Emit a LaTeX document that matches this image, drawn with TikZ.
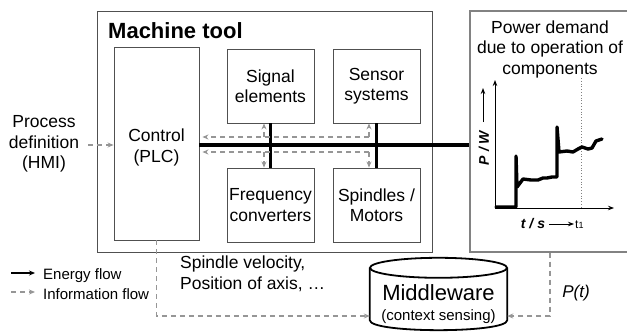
\documentclass[tikz,border=0pt]{standalone}
\usepackage{fontspec}
\setmainfont{Liberation Sans}
\usetikzlibrary{arrows.meta,calc}
\definecolor{infocol}{RGB}{150,150,150}
\definecolor{boxcol}{RGB}{80,80,80}
\definecolor{pwcol}{RGB}{130,130,130}
\tikzset{
  comp/.style={draw=boxcol, line width=0.9pt, minimum width=87pt, minimum height=74pt, inner sep=0pt, align=center, font=\fontsize{17.5}{20.5}\selectfont},
  energy/.style={line width=3.6pt},
  info/.style={draw=infocol, line width=1.2pt, dash pattern=on 5pt off 4pt, -{Stealth[length=6pt,width=5pt]}, infocol},
  txt/.style={align=center, font=\fontsize{17.5}{20.5}\selectfont, inner sep=0pt},
  curve/.style={line width=3.4pt, line join=round, line cap=round},
}
\begin{document}
\begin{tikzpicture}[x=1pt,y=-1pt]
\useasboundingbox (0,0) rectangle (627,332);
% frames
\node[draw=boxcol, line width=0.9pt, minimum width=335pt, minimum height=241pt, inner sep=0pt] (mt) at (264.5,131.5) {};
\node[anchor=base west, inner sep=0pt, font=\fontsize{22}{24}\selectfont\bfseries] (mtl) at (108,38) {Machine tool};
\node[draw=pwcol, line width=1.2pt, minimum width=170pt, minimum height=241pt, inner sep=0pt] (pw) at (555,131.5) {};
% components
\node[comp, minimum height=193pt, minimum width=85pt] (ctrl) at (156.5,143.5) {};
\node[txt] (ctrlt) at (156.5,147.5) {Control\\(PLC)};
\node[comp] (sig) at (270.5,86) {Signal\\elements};
\node[comp] (sen) at (376.5,86) {Sensor\\systems};
\node[comp] (frq) at (270.5,205) {Frequency\\converters};
\node[comp] (spm) at (376.5,205) {Spindles /\\Motors};
% process definition
\node[txt] (proc) at (44,144) {Process\\definition\\(HMI)};
\coordinate (pa) at (88,145);
\draw[info] (pa) -- (pa -| ctrl.west);
% energy bus
\coordinate (eb) at (199,145);
\draw[energy] (eb) -- (eb -| pw.west);
\draw[energy] (sig.south) -- (frq.north);
\draw[energy] (sen.south) -- (spm.north);
% information arrows
\coordinate (iu) at (369,137);
\coordinate (il) at (369,152);
\coordinate (ju) at (264,137);
\coordinate (jl) at (264,152);
\draw[info, shorten >=3pt] (iu) -- (iu -| ctrl.east);
\draw[info, shorten >=3pt] (il) -- (il -| ctrl.east);
\draw[info] (iu) -- (iu |- sen.south);
\draw[info] (il) -- (il |- spm.north);
\draw[info] (ju) -- (ju |- sig.south);
\draw[info] (jl) -- (jl |- frq.north);
% power demand
\node[txt] (pdt) at (550,49) {Power demand\\due to operation of\\components};
\coordinate (o) at (495,208);
\coordinate (ytop) at (495,80);
\coordinate (xend) at (614,208);
\draw[line width=0.9pt, -{Stealth[length=6pt,width=4.5pt]}] (o) -- (ytop);
\draw[line width=0.9pt, -{Stealth[length=6pt,width=4.5pt]}] (o) -- (xend);
\coordinate (t1a) at (581,78);
\draw[gray, dotted, line width=0.8pt] (t1a) -- (t1a |- o);
\draw[curve] (496,207) -- (516,207) -- (516,156) -- (517,187) -- (523,179) -- (531,180) -- (538,180) -- (543,178) -- (547,178) -- (552,177) -- (557,177) -- (557,127) -- (559,152) -- (567,151) -- (573,152) -- (578,149) -- (582,147) -- (588,149) -- (592,148) -- (596,141) -- (602,139);
\node[rotate=90, inner sep=0pt, font=\fontsize{14}{14}\selectfont\bfseries\itshape] (pwl) at (484,148) {P / W};
\coordinate (pwa) at (483,122);
\draw[line width=0.9pt, -{Stealth[length=6pt,width=4.5pt]}] (pwa) -- ++(0,-34);
\node[anchor=base, inner sep=0pt, font=\fontsize{14}{14}\selectfont\bfseries\itshape] (tsl) at (533,228) {t / s};
\coordinate (tsa) at (549,224);
\draw[line width=0.9pt, -{Stealth[length=6pt,width=4.5pt]}] (tsa) -- ++(25,0);
\node[anchor=base west, inner sep=0pt, font=\fontsize{12}{12}\selectfont] (t1l) at (575,228) {t{\fontsize{9}{9}\selectfont 1}};
% middleware
\node[minimum width=137pt, minimum height=72pt, inner sep=0pt] (mw) at (438.5,294) {};
\draw[line width=1.8pt] ([yshift=-10pt]mw.north) ellipse [x radius=68.5pt, y radius=10pt];
\draw[line width=1.8pt] ([yshift=-10pt]mw.north west) -- ([yshift=10pt]mw.south west) .. controls +(0,13.3) and +(0,13.3) .. ([yshift=10pt]mw.south east) -- ([yshift=-10pt]mw.north east);
\node[anchor=base, inner sep=0pt, font=\fontsize{22}{22}\selectfont] (mwt) at (438.5,300) {Middleware};
\node[anchor=base, inner sep=0pt, font=\fontsize{15}{15}\selectfont] (mwc) at (438.5,320) {(context sensing)};
% lower connectors
\draw[info] (ctrl.south) |- ([yshift=-22pt]mw.west);
\draw[info] ([xshift=-5pt]pw.south) |- ([yshift=-22pt]mw.east);
\node[anchor=base west, txt, align=left] (spv) at (180,289) {Spindle velocity,\\Position of axis, \dots};
\node[inner sep=0pt, font=\fontsize{17}{17}\selectfont\itshape] (pt) at (576,293) {P(t)};
% legend
\coordinate (le1) at (11,273);
\coordinate (le2) at (11,292);
\draw[line width=1.6pt, -{Stealth[length=6pt,width=5pt]}] (le1) -- ++(24,0);
\draw[info] (le2) -- ++(24,0);
\node[anchor=base west, inner sep=0pt, font=\fontsize{15}{15}\selectfont] (l1) at (43,279) {Energy flow};
\node[anchor=base west, inner sep=0pt, font=\fontsize{15}{15}\selectfont] (l2) at (43,299) {Information flow};
\end{tikzpicture}
\end{document}
